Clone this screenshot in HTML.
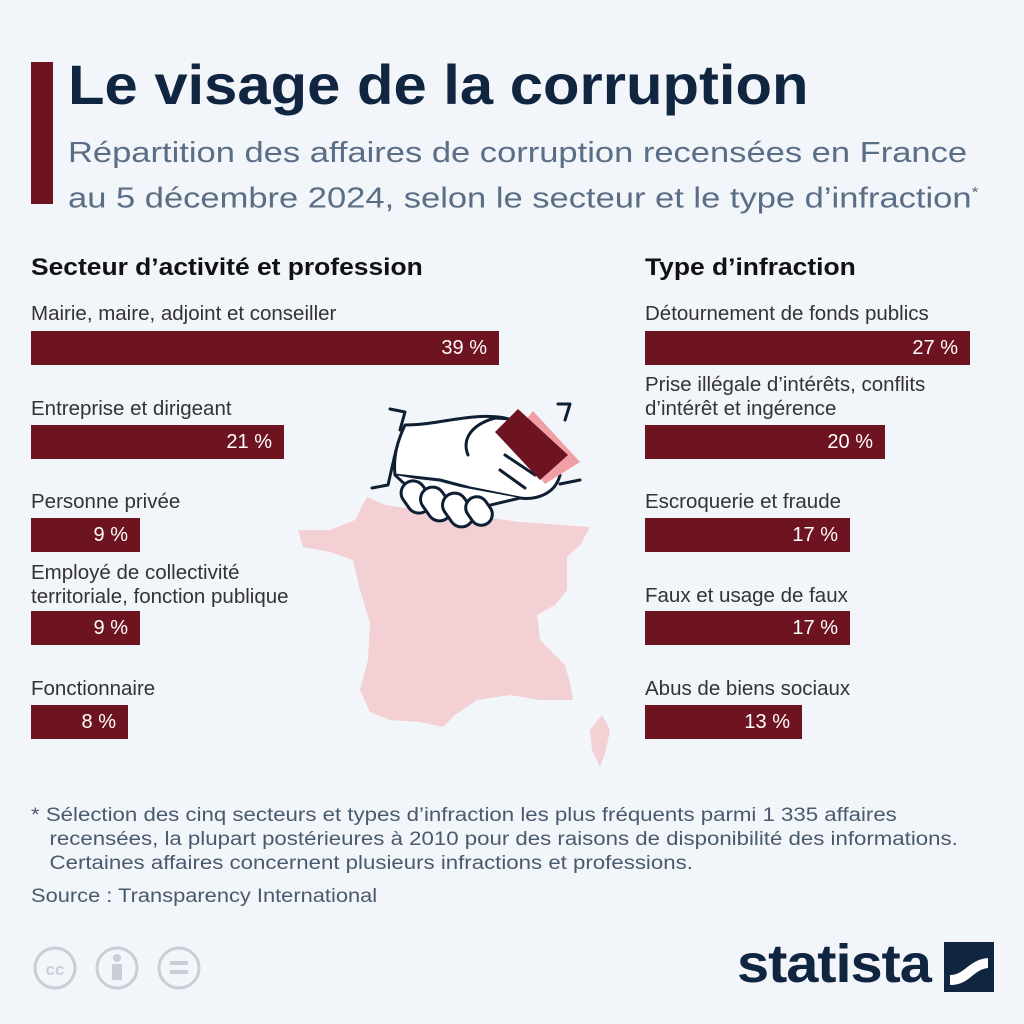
<!DOCTYPE html>
<html><head><meta charset="utf-8"><style>
*{margin:0;padding:0;box-sizing:border-box}
body{width:1024px;height:1024px;background:#f2f5f9;font-family:"Liberation Sans",sans-serif;position:relative;overflow:hidden;color:#222}
.a{position:absolute}
.s{transform-origin:0 0}
.t{font-size:20.5px;color:#333;white-space:nowrap;line-height:24px}
.bar{position:absolute;height:34px;background:#6e1420;color:#fff;font-size:20px;text-align:right;padding-right:12px;line-height:34px}
h2{position:absolute;font-size:24px;font-weight:bold;color:#111;white-space:nowrap;transform:scaleX(1.1);transform-origin:0 0}
</style></head><body>
<div class="a" style="left:31px;top:62px;width:22px;height:142px;background:#6e1420"></div>
<div class="a s" style="left:68px;top:52px;font-size:56px;font-weight:bold;color:#0f2540;white-space:nowrap;transform:scaleX(1.067)">Le visage de la corruption</div>
<div class="a s" style="left:68px;top:133px;font-size:29px;color:#5a6e86;line-height:40px;white-space:nowrap;transform:scaleX(1.19)">Répartition des affaires de corruption recensées en France<br>au 5 décembre 2024, selon le secteur et le type d’infraction<sup style="font-size:15px">*</sup></div>

<svg class="a" style="left:0;top:0" width="1024" height="1024">
<path fill="#f3d0d3" d="M367,497 L385,505 L420,510 L470,515 L520,522 L590,527 L580,545 L567,557 L567,590 L555,605 L537,615 L540,640 L565,665 L570,683 L573,700 L540,700 L510,695 L477,700 L455,715 L443,727 L420,722 L390,720 L370,712 L360,690 L368,660 L370,623 L360,590 L353,560 L330,552 L303,547 L298,530 L330,530 L355,520 Z"/>
<path fill="#f3d0d3" d="M602,715 L610,730 L606,750 L600,767 L592,750 L590,730 Z"/>
<g stroke="#0f1f33" stroke-width="3" fill="#fff" stroke-linecap="round" stroke-linejoin="round">
<path d="M405,425 C440,425 470,412 505,418 L540,430 L560,475 C555,495 535,500 520,498 L470,488 L440,480 L395,475 C393,455 398,440 405,425Z"/>
<path d="M395,475 C410,490 430,505 470,510 L520,498"/>
<path d="M468,455 C462,440 470,425 495,418 L525,420"/>
<rect x="404" y="480" width="24" height="34" rx="12" transform="rotate(-35 416 497)"/>
<rect x="424" y="486" width="24" height="36" rx="12" transform="rotate(-35 436 504)"/>
<rect x="446" y="492" width="24" height="36" rx="12" transform="rotate(-35 458 510)"/>
<rect x="468" y="496" width="22" height="30" rx="11" transform="rotate(-35 479 511)"/>
<path d="M505,455 L535,475 M500,470 L525,488" fill="none"/>
<path d="M390,409 L405,412 L400,430 M396,450 L388,485 L372,488 M558,404 L570,404 L565,420 M560,484 L580,480" fill="none"/>
</g>
<path d="M533,411 L580,462 L545,484 L510,440Z" fill="#f0a0a5"/>
<path d="M518,409 L568,455 L540,480 L495,432Z" fill="#6e1420"/>
<circle cx="55" cy="968" r="20" fill="none" stroke="#c8ced6" stroke-width="3"/>
<text x="55" y="975" text-anchor="middle" font-size="17" font-weight="bold" fill="#c8ced6" font-family="Liberation Sans">cc</text>
<circle cx="117" cy="968" r="20" fill="none" stroke="#c8ced6" stroke-width="3"/>
<circle cx="117" cy="958" r="4" fill="#c8ced6"/><rect x="112" y="964" width="10" height="16" fill="#c8ced6"/>
<circle cx="179" cy="968" r="20" fill="none" stroke="#c8ced6" stroke-width="3"/>
<rect x="170" y="961" width="18" height="4" fill="#c8ced6"/><rect x="170" y="970" width="18" height="4" fill="#c8ced6"/>
<rect x="944" y="942" width="50" height="50" fill="#0f2540"/>
<path d="M950,975 C965,975 968,960 988,958 L988,968 C972,970 970,985 950,985Z" fill="#fff"/>
</svg>

<h2 style="left:31px;top:254px">Secteur d’activité et profession</h2>
<h2 style="left:645px;top:254px">Type d’infraction</h2>

<div class="a t" style="left:31px;top:302px">Mairie, maire, adjoint et conseiller</div>
<div class="bar" style="left:31px;top:331px;width:468px">39 %</div>
<div class="a t" style="left:31px;top:397px">Entreprise et dirigeant</div>
<div class="bar" style="left:31px;top:425px;width:253px">21 %</div>
<div class="a t" style="left:31px;top:490px">Personne privée</div>
<div class="bar" style="left:31px;top:518px;width:109px">9 %</div>
<div class="a t" style="left:31px;top:561px">Employé de collectivité<br>territoriale, fonction publique</div>
<div class="bar" style="left:31px;top:611px;width:109px">9 %</div>
<div class="a t" style="left:31px;top:677px">Fonctionnaire</div>
<div class="bar" style="left:31px;top:705px;width:97px">8 %</div>

<div class="a t" style="left:645px;top:302px">Détournement de fonds publics</div>
<div class="bar" style="left:645px;top:331px;width:325px">27 %</div>
<div class="a t" style="left:645px;top:373px">Prise illégale d’intérêts, conflits<br>d’intérêt et ingérence</div>
<div class="bar" style="left:645px;top:425px;width:240px">20 %</div>
<div class="a t" style="left:645px;top:490px">Escroquerie et fraude</div>
<div class="bar" style="left:645px;top:518px;width:205px">17 %</div>
<div class="a t" style="left:645px;top:584px">Faux et usage de faux</div>
<div class="bar" style="left:645px;top:611px;width:205px">17 %</div>
<div class="a t" style="left:645px;top:677px">Abus de biens sociaux</div>
<div class="bar" style="left:645px;top:705px;width:157px">13 %</div>

<div class="a s" style="left:31px;top:804px;font-size:19px;color:#4a5a6e;line-height:24px;white-space:nowrap;transform:scaleX(1.17)">* Sélection des cinq secteurs et types d’infraction les plus fréquents parmi 1 335 affaires<br>&nbsp;&nbsp;&nbsp;recensées, la plupart postérieures à 2010 pour des raisons de disponibilité des informations.<br>&nbsp;&nbsp;&nbsp;Certaines affaires concernent plusieurs infractions et professions.</div>
<div class="a s" style="left:31px;top:886px;font-size:19px;color:#4a5a6e;transform:scaleX(1.15)">Source : Transparency International</div>
<div class="a s" style="left:737px;top:933px;font-size:54px;font-weight:bold;color:#0f2540;letter-spacing:-1px;transform:scaleX(1.07)">statista</div>
</body></html>
